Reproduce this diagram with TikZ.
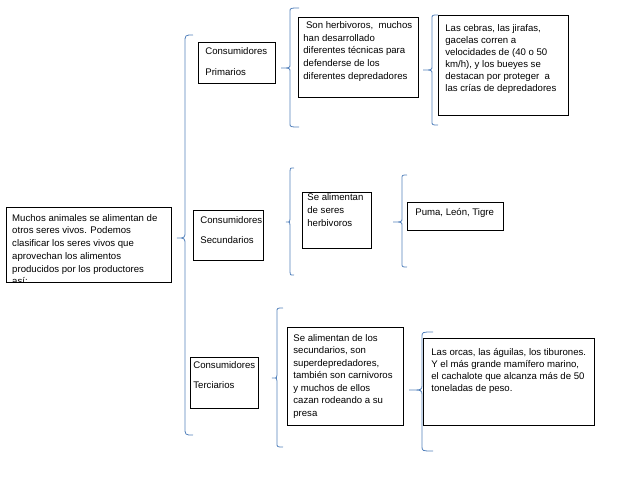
\documentclass[tikz,border=0pt]{standalone}
\usepackage{fontspec}
\setmainfont{Liberation Sans}
\definecolor{bracecol}{RGB}{84,130,188}
\newcommand{\fs}[1]{\fontsize{9.6}{#1}\selectfont}
\newcommand{\tx}[4]{\parbox[t][#2][t]{#1}{\fs{#3}\raggedright #4}}
\begin{document}
\begin{tikzpicture}[x=1pt,y=-1pt,
  cbox/.style={draw=black, line width=0.75pt, anchor=north west, inner sep=0pt},
  brace/.style={draw=bracecol, line width=0.8pt}]
\useasboundingbox (0,0) rectangle (638,493);

% main box (text clipped at bottom)
\node[cbox, minimum width=165pt, minimum height=75pt, path picture={
  \node[anchor=north west, inner xsep=5.5pt, inner ysep=4.5pt] at (path picture bounding box.north west)
  {\tx{155pt}{80pt}{12.75pt}{\strut\mbox{Muchos animales se alimentan de}\\ \mbox{otros seres vivos. Podemos}\\ \mbox{clasificar los seres vivos que}\\ \mbox{aprovechan los alimentos}\\ \mbox{producidos por los productores}\\ así:}};
}] (main) at (6,207) {};

% level 1
\node[cbox, inner xsep=7pt, inner ysep=3.75pt] (prim) at (198,42)
  {\tx{63pt}{33.5pt}{12.5pt}{\strut Consumidores\\[8pt]Primarios}};
\node[cbox, inner xsep=7pt, inner ysep=4.75pt] (sec) at (193,210)
  {\tx{56pt}{40.5pt}{12.5pt}{\strut Consumidores\\[7.5pt]Secundarios}};
\node[cbox, inner xsep=3pt, inner ysep=2.25pt] (terc) at (190,357)
  {\tx{62pt}{46.5pt}{12.5pt}{\strut Consumidores\\[7.5pt]Terciarios}};

% level 2
\node[cbox, inner xsep=5pt, inner ysep=2.1pt] (son) at (298,17)
  {\tx{110pt}{75.8pt}{12.75pt}{\strut\ \mbox{Son herbivoros,\ \ muchos}\\ \mbox{han desarrollado}\\ \mbox{diferentes técnicas para}\\ \mbox{defenderse de los}\\ \mbox{diferentes depredadores}}};
\node[cbox, inner xsep=5pt, inner ysep=1.5pt] (seres) at (302,192)
  {\tx{59pt}{53pt}{13pt}{\mbox{Se alimentan}\\ \mbox{de seres}\\ \mbox{herbivoros}}};
\node[cbox, inner xsep=6pt, inner ysep=5.25pt] (tdesc) at (287,327)
  {\tx{104pt}{87.5pt}{12.5pt}{\strut\mbox{Se alimentan de los}\\ \mbox{secundarios, son}\\ \mbox{superdepredadores,}\\ \mbox{también son carnivoros}\\ \mbox{y muchos\ de ellos}\\ \mbox{cazan rodeando a su}\\ presa}};

% level 3
\node[cbox, inner xsep=7pt, inner ysep=7.6pt] (cebras) at (438,15)
  {\tx{116pt}{84.8pt}{12pt}{\strut\mbox{Las cebras, las jirafas,}\\ \mbox{gacelas corren a}\\ \mbox{velocidades de (40 o 50}\\ \mbox{km/h),\ y los bueyes se}\\ \mbox{destacan por proteger\ \ a}\\ \mbox{las crías de depredadores}}};
\node[cbox, inner xsep=8pt, inner ysep=4.25pt] (puma) at (407,202)
  {\tx{80pt}{19.5pt}{12.5pt}{\strut\mbox{Puma, León, Tigre}}};
\node[cbox, inner xsep=8pt, inner ysep=8.6pt] (orcas) at (423,338)
  {\tx{155pt}{69.8pt}{12pt}{\strut\mbox{Las orcas, las águilas, los tiburones.}\\ \mbox{Y el más grande mamífero marino,}\\ \mbox{el cachalote que alcanza más de 50}\\ \mbox{toneladas\ de peso.}}};

% braces
\draw[brace] (193,35) .. controls (185,35) .. (185,43) -- (185,231)
  .. controls (185,238) .. (177,238) .. controls (185,238) .. (185,245)
  -- (185,427) .. controls (185,435) .. (193,435);
\draw[brace] (299,8) .. controls (290,8) .. (290,12) -- (290,64)
  .. controls (290,68) .. (281,68) .. controls (290,68) .. (290,72)
  -- (290,123) .. controls (290,127) .. (299,127);
\draw[brace] (438,15) .. controls (432,15) .. (432,19) -- (432,66)
  .. controls (432,70) .. (423,70) .. controls (432,70) .. (432,74)
  -- (432,121) .. controls (432,125) .. (438,125);
\draw[brace] (294,168) .. controls (290,168) .. (290,171) -- (290,219)
  .. controls (290,222) .. (286,222) .. controls (290,222) .. (290,225)
  -- (290,272) .. controls (290,275) .. (294,275);
\draw[brace] (407,175) .. controls (402,175) .. (402,179) -- (402,218)
  .. controls (402,222) .. (393,222) .. controls (402,222) .. (402,226)
  -- (402,263) .. controls (402,267) .. (407,267);
\draw[brace] (283,308) .. controls (277,308) .. (277,312) -- (277,375)
  .. controls (277,378) .. (272,378) .. controls (277,378) .. (277,381)
  -- (277,443) .. controls (277,447) .. (283,447);
\draw[brace] (433,332) .. controls (422,332) .. (422,337) -- (422,385)
  .. controls (422,390) .. (409,390) .. controls (422,390) .. (422,395)
  -- (422,446) .. controls (422,451) .. (433,451);
\end{tikzpicture}
\end{document}
